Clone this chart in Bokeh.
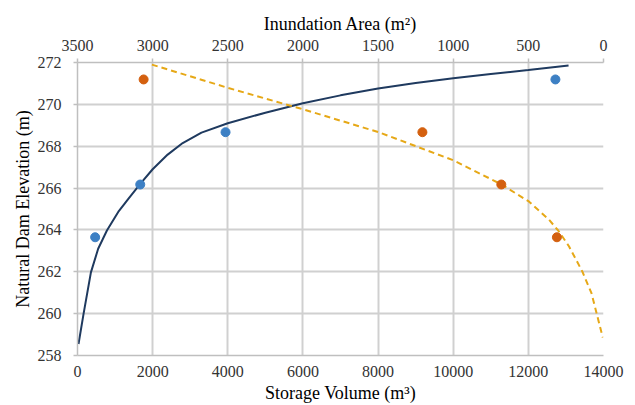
from bokeh.plotting import figure
from bokeh.models import Range1d, LinearAxis, FixedTicker
from bokeh.embed import file_html
from bokeh.resources import INLINE

# Storage volume (m3) vs natural dam elevation (m): observed points
volume_pts = [470, 1670, 3940, 12720]
elev_vol_pts = [263.65, 266.17, 268.67, 271.19]

# Inundation area (m2) vs elevation: observed points
area_pts = [3060, 1205, 680, 310]
elev_area_pts = [271.19, 268.67, 266.17, 263.65]

# Fitted curve: storage volume vs elevation
curve_volume = [27, 160, 357, 550, 783, 1100, 1358, 1670, 2000, 2400, 2800, 3300,
                4000, 5000, 6000, 7000, 8000, 9000, 10000, 11000, 12000, 13070]
curve_elev_vol = [258.55, 259.98, 261.97, 263.1, 263.97, 264.9, 265.5, 266.2, 266.9,
                  267.6, 268.15, 268.65, 269.1, 269.6, 270.05, 270.43, 270.76,
                  271.02, 271.25, 271.45, 271.64, 271.86]

# Fitted curve: inundation area vs elevation
curve_area = [3005, 2500, 2017, 1500, 1000, 680, 497, 364, 300, 230, 142, 80, 40, 5]
curve_elev_area = [271.9, 270.79, 269.8, 268.68, 267.33, 266.18, 265.36, 264.5,
                   263.96, 263.22, 262.03, 260.98, 259.85, 258.86]

volume_ticks = [0, 2000, 4000, 6000, 8000, 10000, 12000, 14000]
area_ticks = [0, 500, 1000, 1500, 2000, 2500, 3000, 3500]
elev_ticks = [258, 260, 262, 264, 266, 268, 270, 272]

FONT = "Liberation Serif"
GRID = "#d0d0d0"
AXIS = "#bfbfbf"
TICK_TXT = "#333333"

p = figure(width=625, height=405, output_backend="svg", toolbar_location=None,
           x_range=Range1d(0, 14000), y_range=Range1d(258, 272),
           min_border_left=77, min_border_right=22, min_border_top=62,
           min_border_bottom=50)
p.outline_line_color = None
p.background_fill_color = "white"
p.border_fill_color = "white"

bottom = p.below[0]
left = p.left[0]

p.extra_x_ranges = {"area": Range1d(3500, 0)}
top = LinearAxis(x_range_name="area", ticker=FixedTicker(ticks=area_ticks),
                 axis_label="Inundation Area (m²)")
p.add_layout(top, "above")

bottom.ticker = FixedTicker(ticks=volume_ticks)
bottom.axis_label = "Storage Volume (m³)"
left.ticker = FixedTicker(ticks=elev_ticks)
left.axis_label = "Natural Dam Elevation (m)"

for ax in [bottom, left, top]:
    ax.axis_line_color = AXIS
    ax.axis_line_width = 1.5
    ax.major_tick_line_color = AXIS
    ax.major_tick_line_width = 1.5
    ax.major_tick_in = 0
    ax.minor_tick_line_color = None
    ax.major_label_text_font = FONT
    ax.major_label_text_font_size = "16px"
    ax.major_label_text_color = TICK_TXT
    ax.axis_label_text_font = FONT
    ax.axis_label_text_font_size = "18px"
    ax.axis_label_text_font_style = "normal"
    ax.axis_label_text_color = "black"

bottom.major_tick_out = 0
bottom.major_label_standoff = 10
bottom.axis_label_standoff = 3
top.major_tick_out = 4
top.major_label_standoff = 8
top.axis_label_standoff = 3
left.major_tick_out = 4
left.major_label_standoff = 12
left.axis_label_standoff = 2

p.xgrid.ticker = FixedTicker(ticks=volume_ticks)
p.ygrid.ticker = FixedTicker(ticks=elev_ticks)
p.xgrid.grid_line_color = GRID
p.ygrid.grid_line_color = GRID
p.xgrid.grid_line_width = 2
p.ygrid.grid_line_width = 2

p.line(curve_volume, curve_elev_vol, line_color="#1f3a5f", line_width=2)
p.line(curve_area, curve_elev_area, x_range_name="area", line_color="#e6a817",
       line_width=2, line_dash="6 4")

p.scatter(volume_pts, elev_vol_pts, size=9, fill_color="#3d80c4", line_color="#3d80c4")
p.scatter(area_pts, elev_area_pts, x_range_name="area", size=9,
          fill_color="#d4600f", line_color="#d4600f")

open("out.html", "w").write(file_html(p, INLINE))
